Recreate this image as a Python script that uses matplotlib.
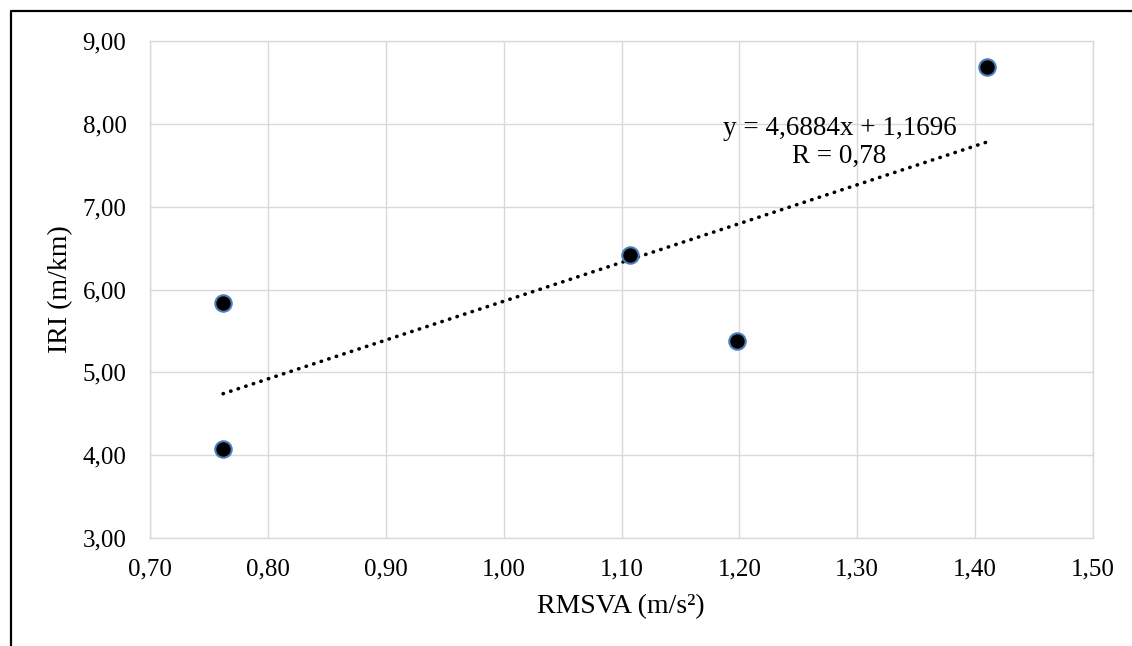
import matplotlib
matplotlib.use("Agg")
import matplotlib.pyplot as plt
from matplotlib.lines import Line2D
import numpy as np

# data
rmsva = [0.762, 0.762, 1.107, 1.198, 1.410]
iri = [5.84, 4.08, 6.42, 5.38, 8.69]

slope = 4.6884
intercept = 1.1696
eq_label = "y = 4,6884x + 1,1696\nR = 0,78"

x_ticks = [0.70, 0.80, 0.90, 1.00, 1.10, 1.20, 1.30, 1.40, 1.50]
y_ticks = [3, 4, 5, 6, 7, 8, 9]
x_ticklabels = ["0,70", "0,80", "0,90", "1,00", "1,10", "1,20", "1,30", "1,40", "1,50"]
y_ticklabels = ["3,00", "4,00", "5,00", "6,00", "7,00", "8,00", "9,00"]

plt.rcParams["font.family"] = ["Liberation Serif", "DejaVu Serif"]
GRID = "#d9d9d9"

W, H = 1132, 646
fig = plt.figure(figsize=(W / 100, H / 100), dpi=100, facecolor="white")
ax = fig.add_axes([150 / W, 1 - 538 / H, (1093 - 150) / W, (538 - 41) / H])

ax.set_xlim(0.70, 1.50)
ax.set_ylim(3, 9)
ax.set_xticks(x_ticks)
ax.set_xticklabels(x_ticklabels)
ax.set_yticks(y_ticks)
ax.set_yticklabels(y_ticklabels)
ax.tick_params(length=0, labelsize=18, colors="black")
ax.tick_params(axis="x", pad=15)
ax.tick_params(axis="y", pad=17)
ax.grid(True, color=GRID, linewidth=1.0)
ax.set_axisbelow(True)
for s in ax.spines.values():
    s.set_color(GRID)
    s.set_linewidth(1.0)

# trendline over the data range
xs = np.array([min(rmsva), max(rmsva)])
ax.plot(xs, slope * xs + intercept, color="black", linewidth=2.6,
        linestyle=(0, (0.1, 2.1)), dash_capstyle="round", zorder=2)

ax.scatter(rmsva, iri, s=140, facecolor="black", edgecolor="#4a7ebb",
           linewidth=1.5, zorder=3)

ax.text(1.285, 7.77, eq_label, ha="center", va="center",
        multialignment="center", fontsize=19.5, linespacing=1.15)

ax.set_xlabel("RMSVA (m/s²)", fontsize=20)
ax.set_ylabel("IRI (m/km)", fontsize=20)
ax.xaxis.set_label_coords((621 - 150) / (1093 - 150), -(607 - 538) / (538 - 41))
ax.yaxis.set_label_coords(-(150 - 61) / (1093 - 150), 0.5)
ax.xaxis.label.set_va("center")
ax.yaxis.label.set_va("center")

# chart-area border (top and left edges visible)
fig.add_artist(Line2D([11 / W, 11 / W, 1], [0, 1 - 11 / H, 1 - 11 / H],
                      transform=fig.transFigure, color="black", linewidth=1.6))

plt.savefig("out.png", dpi=100, facecolor="white")
